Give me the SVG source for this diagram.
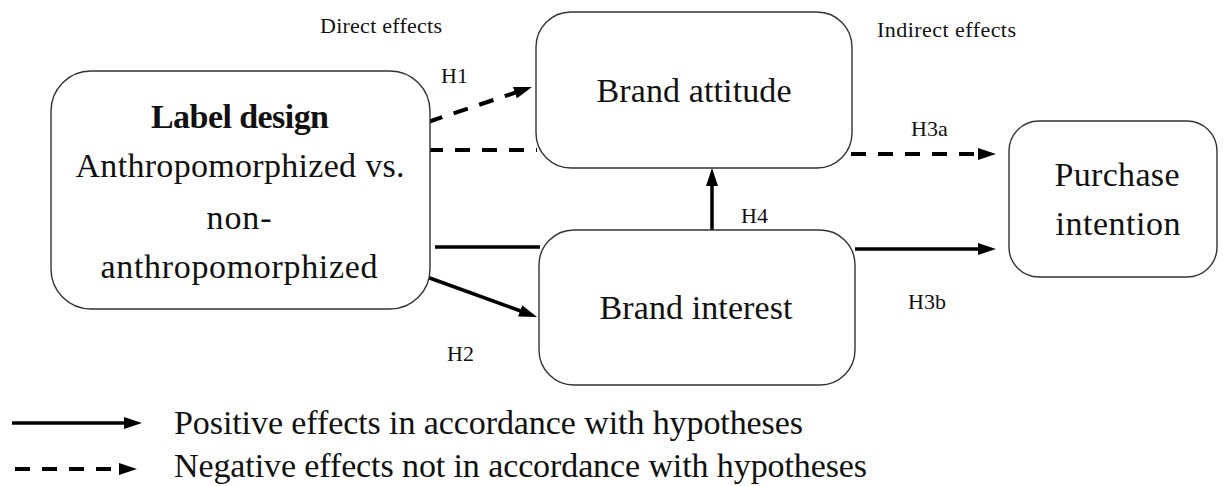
<svg xmlns="http://www.w3.org/2000/svg" width="1223" height="486" viewBox="0 0 1223 486">
  <defs>
    <marker id="arrow" markerUnits="userSpaceOnUse" markerWidth="18" markerHeight="12" refX="2" refY="6" orient="auto">
      <path d="M0,0 L18,6 L0,12 z" fill="#000"/>
    </marker>
    <style>
      .box { fill: #fff; stroke: #333; stroke-width: 1.4; }
      .node { font-family: "Liberation Serif", "Times New Roman", serif; font-size: 34px; fill: #111; text-anchor: middle; }
      .bold { font-weight: bold; }
      .small { font-family: "Liberation Serif", "Times New Roman", serif; font-size: 22px; fill: #111; }
      .legend { font-family: "Liberation Serif", "Times New Roman", serif; font-size: 34px; fill: #111; }
      .solid { fill: none; stroke: #000; stroke-width: 3.5; }
      .dash { fill: none; stroke: #000; stroke-width: 4; stroke-dasharray: 15 12; }
    </style>
  </defs>

  <g id="connectors">
    <line class="dash" x1="428" y1="122" x2="516.8" y2="92.1" marker-end="url(#arrow)"/>
    <line class="dash" x1="428" y1="150" x2="537" y2="150"/>
    <line class="dash" x1="851" y1="154" x2="980" y2="154" marker-end="url(#arrow)"/>
    <line class="solid" x1="435" y1="247" x2="540" y2="247"/>
    <line class="solid" x1="427" y1="277" x2="522" y2="311.5" marker-end="url(#arrow)"/>
    <line class="solid" x1="855" y1="249" x2="980" y2="249" marker-end="url(#arrow)"/>
    <line class="solid" x1="712" y1="230" x2="712" y2="184" marker-end="url(#arrow)"/>
  </g>

  <g id="label-design">
    <rect class="box" x="51" y="71" width="379" height="238" rx="40" ry="40"/>
    <text class="node bold" x="240" y="128" textLength="178">Label design</text>
    <text class="node" x="240" y="177" textLength="329">Anthropomorphized vs.</text>
    <text class="node" x="239" y="229" textLength="65">non-</text>
    <text class="node" x="239" y="278" textLength="277">anthropomorphized</text>
  </g>

  <g id="brand-attitude">
    <rect class="box" x="536" y="12" width="316" height="156" rx="35" ry="35"/>
    <text class="node" x="694" y="102" textLength="195">Brand attitude</text>
  </g>

  <g id="brand-interest">
    <rect class="box" x="539" y="230" width="316" height="155" rx="35" ry="35"/>
    <text class="node" x="696" y="319" textLength="193">Brand interest</text>
  </g>

  <g id="purchase-intention">
    <rect class="box" x="1009" y="121" width="208" height="156" rx="30" ry="30"/>
    <text class="node" x="1117" y="186" textLength="125">Purchase</text>
    <text class="node" x="1118" y="235" textLength="125">intention</text>
  </g>

  <g id="labels">
    <text class="small" x="320" y="33" textLength="122">Direct effects</text>
    <text class="small" x="877" y="37" textLength="139">Indirect effects</text>
    <text class="small" x="441" y="83">H1</text>
    <text class="small" x="911" y="136">H3a</text>
    <text class="small" x="741" y="223">H4</text>
    <text class="small" x="908" y="309">H3b</text>
    <text class="small" x="447" y="361">H2</text>
  </g>

  <g id="legend">
    <line class="solid" x1="12" y1="423" x2="126" y2="423" marker-end="url(#arrow)"/>
    <text class="legend" x="174" y="434" textLength="629">Positive effects in accordance with hypotheses</text>
    <line class="dash" x1="15" y1="469" x2="121" y2="469" marker-end="url(#arrow)"/>
    <text class="legend" x="174" y="477" textLength="693">Negative effects not in accordance with hypotheses</text>
  </g>
</svg>
